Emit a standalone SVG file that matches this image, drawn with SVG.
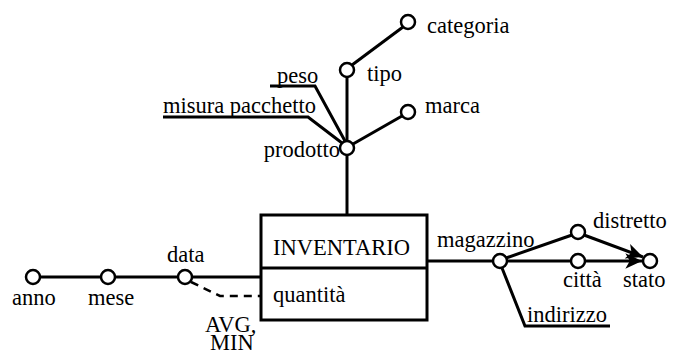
<svg xmlns="http://www.w3.org/2000/svg" width="675" height="354" viewBox="0 0 675 354" font-family="'Liberation Serif', 'Times New Roman', 'DejaVu Serif', serif">
<style>
text{font-family:'Liberation Serif','Times New Roman','DejaVu Serif',serif;font-size:22.5px;fill:#000}
.l{stroke:#000;stroke-width:3;fill:none}
.d{stroke:#000;stroke-width:2.5;fill:none;stroke-dasharray:8,6}
.c{stroke:#000;stroke-width:2.5;fill:#fff}
.b{stroke:#000;stroke-width:3;fill:#fff}
</style>
<defs>
<marker id="arr" markerUnits="userSpaceOnUse" markerWidth="20" markerHeight="20" viewBox="-16 -8 18 16" refX="0" refY="0" orient="auto">
<path d="M0,0 L-15,-7 L-11,0 L-15,7 Z" fill="#000"/>
</marker>
</defs>
<rect width="675" height="354" fill="#fff"/>
<g id="connectors">
<line class="l" x1="352" y1="65" x2="403" y2="27"/>
<line class="l" x1="347" y1="77" x2="347" y2="141"/>
<line class="l" x1="353" y1="144" x2="402" y2="116"/>
<line class="l" x1="347" y1="155" x2="347" y2="215"/>
<polyline class="l" points="270,86 315,86 345,141"/>
<polyline class="l" points="163,117 308,117 342,143"/>
<line class="l" x1="40" y1="277" x2="101" y2="277"/>
<line class="l" x1="115" y1="277" x2="178" y2="277"/>
<line class="l" x1="192" y1="277" x2="261" y2="277"/>
<polyline class="d" points="191,282 220,296 261,296"/>
<line class="l" x1="427" y1="261" x2="493" y2="261"/>
<line class="l" x1="506" y1="258" x2="572" y2="235"/>
<line class="l" x1="507" y1="261" x2="571" y2="261"/>
<line class="l" x1="585" y1="261" x2="642" y2="261" marker-end="url(#arr)"/>
<line class="l" x1="584" y1="235" x2="643" y2="257" marker-end="url(#arr)"/>
<polyline class="l" points="502,268 525,326 610,326"/>
</g>
<g id="categoria"><circle class="c" cx="408" cy="22" r="7"/><text x="427" y="33">categoria</text></g>
<g id="tipo"><circle class="c" cx="347" cy="70" r="7"/><text x="367" y="81">tipo</text></g>
<g id="marca"><circle class="c" cx="408" cy="112" r="7"/><text x="425" y="113">marca</text></g>
<g id="prodotto"><circle class="c" cx="347" cy="148" r="7"/><text x="340" y="157" text-anchor="end">prodotto</text></g>
<g id="peso"><text x="277" y="83">peso</text></g>
<g id="misura"><text x="163" y="113">misura pacchetto</text></g>
<g id="inventario">
<rect class="b" x="261" y="215" width="166" height="105"/>
<line class="l" x1="261" y1="268" x2="427" y2="268"/>
<text x="273" y="255">INVENTARIO</text>
<text x="273" y="302">quantità</text>
</g>
<g id="anno"><circle class="c" cx="33" cy="277" r="7"/><text x="12" y="305">anno</text></g>
<g id="mese"><circle class="c" cx="108" cy="277" r="7"/><text x="88" y="305">mese</text></g>
<g id="data"><circle class="c" cx="185" cy="277" r="7"/><text x="167" y="262">data</text></g>
<g id="agg"><text x="205" y="332">AVG,</text><text x="210" y="350">MIN</text></g>
<g id="magazzino"><circle class="c" cx="500" cy="261" r="7"/><text x="437" y="247">magazzino</text></g>
<g id="distretto"><circle class="c" cx="578" cy="232" r="7"/><text x="593" y="228">distretto</text></g>
<g id="citta"><circle class="c" cx="578" cy="261" r="7"/><text x="563" y="287">città</text></g>
<g id="stato"><circle class="c" cx="650" cy="261" r="7"/><text x="623" y="287">stato</text></g>
<g id="indirizzo"><text x="527" y="322">indirizzo</text></g>
</svg>
